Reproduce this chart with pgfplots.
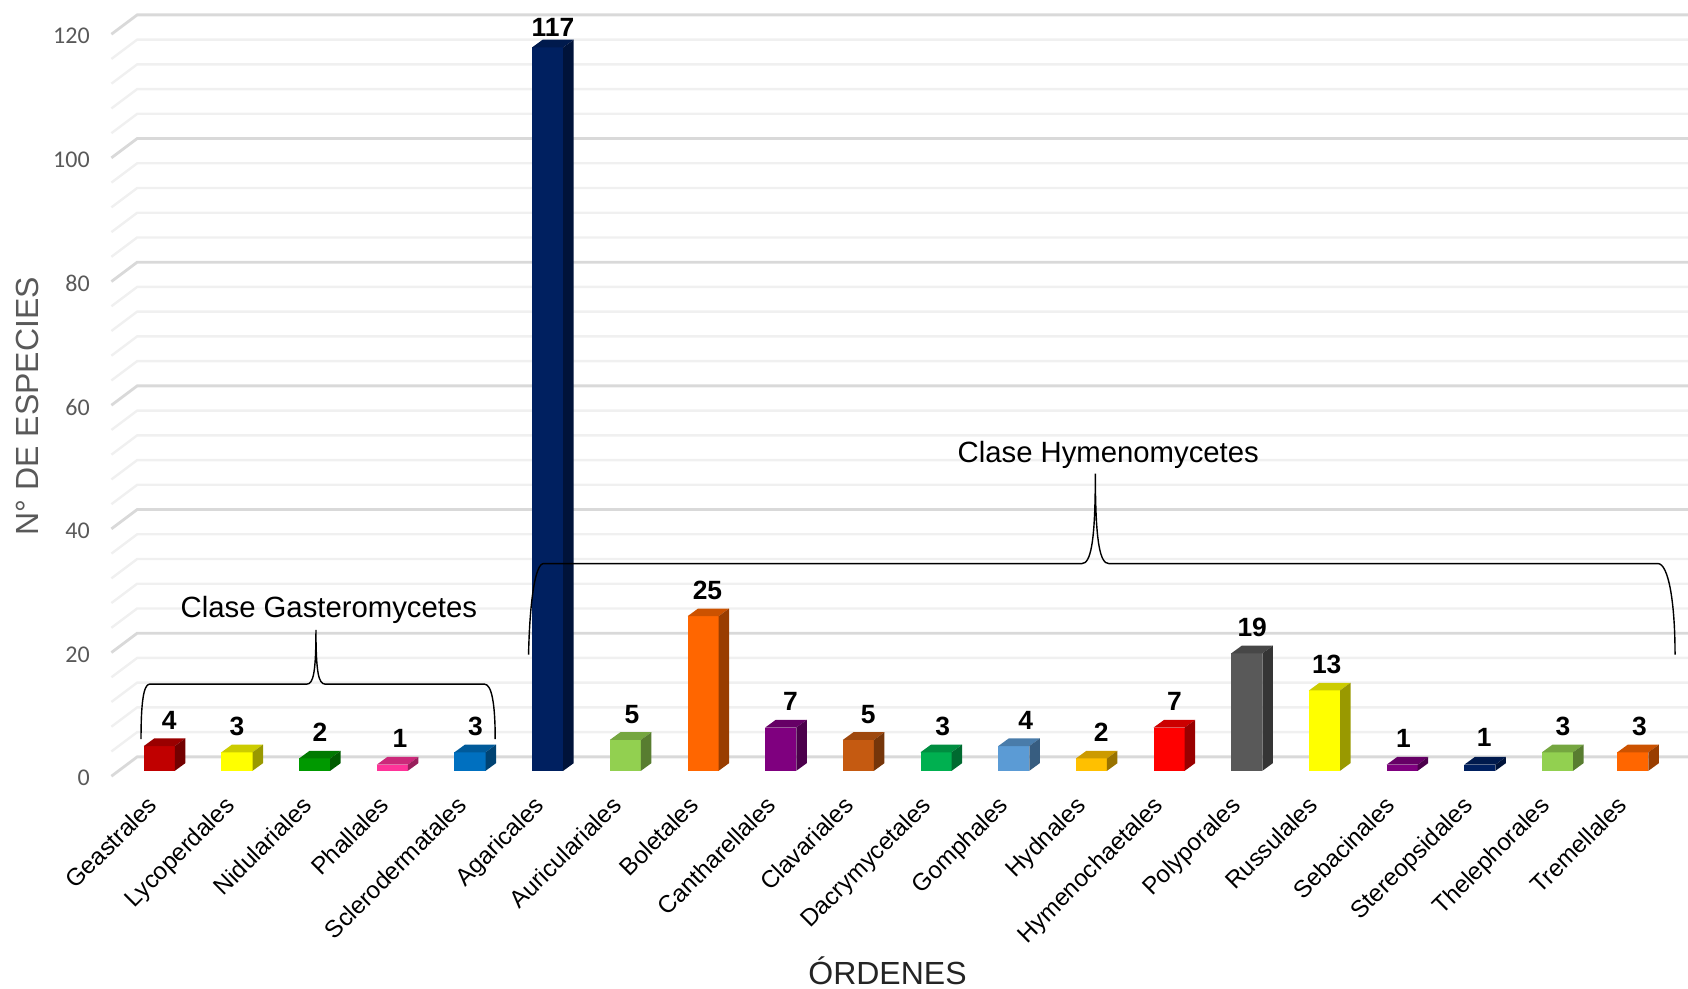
\documentclass[border=0pt]{standalone}
\usepackage{pgfplots}
\pgfplotsset{compat=1.18}
\usepackage{fontspec}
\setmainfont{Liberation Sans}
\newfontfamily\tickfont{Carlito}
\definecolor{gridmajor}{HTML}{D9D9D9}
\definecolor{gridminor}{HTML}{F0F0F0}
\definecolor{axistext}{HTML}{595959}
\definecolor{cRed}{HTML}{C00000}
\definecolor{cYel}{HTML}{FFFF00}
\definecolor{cGrn}{HTML}{009900}
\definecolor{cPnk}{HTML}{FF3399}
\definecolor{cBlu}{HTML}{0070C0}
\definecolor{cNvy}{HTML}{002060}
\definecolor{cLim}{HTML}{92D050}
\definecolor{cOrg}{HTML}{FF6600}
\definecolor{cPur}{HTML}{7F007F}
\definecolor{cBrn}{HTML}{C55A11}
\definecolor{cEme}{HTML}{00B050}
\definecolor{cSky}{HTML}{5B9BD5}
\definecolor{cAmb}{HTML}{FFC000}
\definecolor{cViv}{HTML}{FF0000}
\definecolor{cGry}{HTML}{595959}

% One wall line: slanted stretch along the side wall, then across the back wall
% #1 level, #2 colour, #3 line width
\newcommand{\wallline}[3]{%
  \pgfmathsetmacro{\yback}{#1+2.26}%
  \pgfmathsetmacro{\yfront}{#1-0.87}%
  \edef\tmp{\noexpand\addplot[color=#2,line width=#3,forget plot]
    coordinates {(-0.6166,\yfront)(-0.2845,\yback)(19.686,\yback)};}%
  \tmp}

% One box-shaped column: front, top and side face, and its value above
% #1 position, #2 value, #3 colour, #4 label shift x, #5 label shift y
\newcommand{\boxbar}[5]{%
  \pgfmathsetmacro{\xl}{#1-0.2}%
  \pgfmathsetmacro{\xr}{#1+0.2}%
  \pgfmathsetmacro{\xld}{#1-0.2+0.135}%
  \pgfmathsetmacro{\xrd}{#1+0.2+0.135}%
  \pgfmathsetmacro{\yt}{#2+1.24}%
  \edef\tmp{%
    \noexpand\addplot[fill=#3,draw=none,forget plot] coordinates {(\xl,0)(\xr,0)(\xr,#2)(\xl,#2)} -- cycle;
    \noexpand\addplot[fill=#3!80!black,draw=none,forget plot] coordinates {(\xl,#2)(\xr,#2)(\xrd,\yt)(\xld,\yt)} -- cycle;
    \noexpand\addplot[fill=#3!60!black,draw=none,forget plot] coordinates {(\xr,0)(\xrd,1.24)(\xrd,\yt)(\xr,#2)} -- cycle;
    \noexpand\node[font=\noexpand\fontsize{13.2}{15}\noexpand\selectfont\noexpand\bfseries,xshift=#4pt,yshift=#5pt]
      at (axis cs:#1,#2) {#2};}%
  \tmp}

\begin{document}
\begin{tikzpicture}[x=0.5pt,y=0.5pt]
\path[use as bounding box] (0,0) rectangle (1688,-989);
\begin{axis}[
  at={(55.7pt,-388.1pt)}, anchor=south west,
  scale only axis, width=788.55pt, height=381.1pt,
  xmin=-0.6166, xmax=19.686, ymin=-0.87, ymax=122.4,
  clip=false,
  axis line style={draw=none},
  major tick length=0pt,
  xtick={0.035,1.031,2.027,3.023,4.019,5.015,6.011,7.007,8.003,8.999,9.995,10.991,11.987,12.983,13.979,14.975,15.971,16.967,17.963,18.959},
  xticklabels={Geastrales,Lycoperdales,Nidulariales,Phallales,Sclerodermatales,Agaricales,Auriculariales,Boletales,Cantharellales,Clavariales,Dacrymycetales,Gomphales,Hydnales,Hymenochaetales,Polyporales,Russulales,Sebacinales,Stereopsidales,Thelephorales,Tremellales},
  x tick label style={xshift=-8pt,yshift=-9pt,rotate=45,anchor=north east,inner sep=0pt,
    font=\fontsize{12.1}{14}\selectfont,text=black},
  ytick={-0.87,19.13,39.13,59.13,79.13,99.13,119.13},
  yticklabels={0,20,40,60,80,100,120},
  y tick label style={anchor=east,xshift=-7.3pt,yshift=-0.9pt,font=\tickfont\fontsize{12}{14}\selectfont,text=axistext},
  xlabel={ÓRDENES},
  xlabel style={at={(axis description cs:0.4921,-0.2547)},anchor=center,
    font=\fontsize{16}{18}\selectfont,text=axistext!40!black},
  ylabel={N° DE ESPECIES},
  ylabel style={at={(axis description cs:-0.0533,0.4854)},anchor=center,
    font=\fontsize{16}{18}\selectfont,text=axistext},
]
% minor wall lines every four units, major ones every twenty
\pgfplotsinvokeforeach{4,8,12,16,24,28,32,36,44,48,52,56,64,68,72,76,84,88,92,96,104,108,112,116}{\wallline{#1}{gridminor}{1.2pt}}
\pgfplotsinvokeforeach{0,20,40,60,80,100,120}{\wallline{#1}{gridmajor}{1.4pt}}

\boxbar{0}{4}{cRed}{4.9}{12.9}
\boxbar{1}{3}{cYel}{0}{12.9}
\boxbar{2}{2}{cGrn}{2.7}{12.9}
\boxbar{3}{1}{cPnk}{3.8}{12.9}
\boxbar{4}{3}{cBlu}{2.7}{12.9}
\boxbar{5}{117}{cNvy}{2.6}{10.2}
\boxbar{6}{5}{cLim}{3.3}{12.9}
\boxbar{7}{25}{cOrg}{2.2}{12.9}
\boxbar{8}{7}{cPur}{4.9}{12.9}
\boxbar{9}{5}{cBrn}{4.9}{12.9}
\boxbar{10}{3}{cEme}{3.3}{12.9}
\boxbar{11}{4}{cSky}{6}{12.9}
\boxbar{12}{2}{cAmb}{4.9}{12.9}
\boxbar{13}{7}{cViv}{2.7}{12.9}
\boxbar{14}{19}{cGry}{2.7}{12.9}
\boxbar{15}{13}{cYel}{1.1}{12.9}
\boxbar{16}{1}{cPur}{0.6}{12.9}
\boxbar{17}{1}{cNvy}{2.2}{13.5}
\boxbar{18}{3}{cLim}{2.7}{12.9}
\boxbar{18.97}{3}{cOrg}{3.3}{12.9}
\end{axis}

% class braces and their captions
\begin{scope}[x=0.53825pt,y=-0.53825pt,line width=0.7pt]
\draw (131,686.5) .. controls (131,655) and (133,635.5) .. (139,635.5) -- (285,635.5)
  .. controls (291,635.5) and (293.5,625) .. (293.5,585)
  .. controls (293.5,625) and (296,635.5) .. (302,635.5) -- (450,635.5)
  .. controls (457,635.5) and (460,655) .. (460,686.5);
\node[font=\fontsize{14.65}{17}\selectfont] at (305.5,567) {Clase Gasteromycetes};
\draw (491,608) .. controls (492,560) and (497,523.5) .. (505,523.5) -- (1005,523.5)
  .. controls (1013,523.5) and (1017.5,505) .. (1017.5,440)
  .. controls (1017.5,505) and (1022,523.5) .. (1030,523.5) -- (1540,523.5)
  .. controls (1550,523.5) and (1556,560) .. (1556,608);
\node[font=\fontsize{14.65}{17}\selectfont] at (1029.5,423) {Clase Hymenomycetes};
\end{scope}
\end{tikzpicture}
\end{document}
